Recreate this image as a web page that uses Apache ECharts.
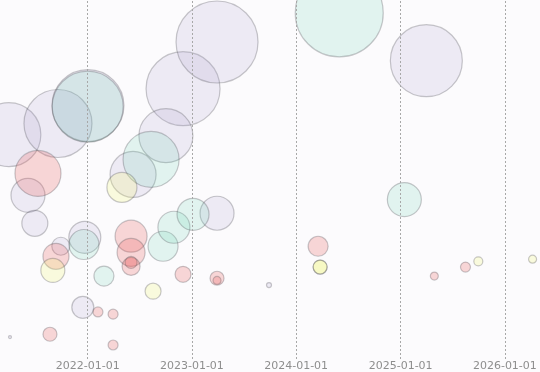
<!DOCTYPE html>
<html>
<head>
<meta charset="utf-8">
<script src="https://cdn.jsdelivr.net/npm/echarts@6/dist/echarts.min.js"></script>
<style>html,body{margin:0;padding:0;background:#fcfbfd;}#c{width:540px;height:372px;}</style>
</head>
<body>
<div id="c"></div>
<script>
// Axis tick labels (year boundaries with dashed guide lines)
var tickLabels = ['2022-01-01', '2023-01-01', '2024-01-01', '2025-01-01', '2026-01-01'];

// Series: lavender
var lavDates = ['2021-03-31','2021-09-19','2022-01-02','2022-12-01','2022-10-02','2022-06-09','2021-06-06','2021-06-30','2023-03-30','2025-04-01','2021-12-22','2021-09-29','2023-03-30','2021-12-15','2021-04-04','2023-09-28'];
var lavValues = [62.5,65.6,70.6,75.3,62.2,51.4,45.6,37.8,88.3,83.1,33.9,31.4,40.6,14.4,6.1,20.6];
var lavSizes = [64,68,72,74,54,46,34,26,82,72,32,18,34,22,3,5];

// Series: teal
var tealDates = ['2022-01-01','2022-08-11','2024-05-31','2021-12-19','2022-02-27','2022-09-22','2022-10-30','2023-01-05','2025-01-14'];
var tealValues = [70.3,55.6,96.4,31.9,23.1,31.4,36.7,40.3,44.4];
var tealSizes = [71,56,88,30,20,30,32,32,34];

// Series: pink
var pinkDates = ['2021-07-11','2021-09-12','2022-06-02','2022-06-02','2022-06-02','2022-06-02','2022-12-01','2023-03-30','2023-03-30','2022-02-06','2022-03-31','2021-08-22','2022-03-31','2024-03-18','2025-04-29','2025-08-16'];
var pinkValues = [51.7,28.6,34.2,29.7,25.8,26.9,23.6,22.5,21.9,13.1,12.5,6.9,3.9,31.4,23.1,25.6];
var pinkSizes = [46,26,32,28,18,12,16,14,8,10,10,14,10,20,8,10];

// Series: yellow
var yelDates = ['2022-05-01','2021-09-01','2022-08-18','2024-03-25','2024-03-25','2025-09-30','2026-04-08'];
var yelValues = [47.8,24.7,18.9,25.6,25.6,27.2,27.8];
var yelSizes = [30,24,16,14,14,9,8];

function pack(d, v, s) {
  return d.map(function (x, i) { return [x, v[i], s[i]]; });
}
function mk(name, data, color) {
  return {
    name: name,
    type: 'scatter',
    silent: true,
    data: data,
    symbolSize: function (val) { return val[2]; },
    itemStyle: { color: color, borderColor: 'rgba(80,80,85,0.38)', borderWidth: 1.2 },
    emphasis: { disabled: true }
  };
}

var series = [
  mk('lavender', pack(lavDates, lavValues, lavSizes), 'rgba(160,150,200,0.2)'),
  mk('teal', pack(tealDates, tealValues, tealSizes), 'rgba(90,205,165,0.2)'),
  mk('pink', pack(pinkDates, pinkValues, pinkSizes), 'rgba(235,95,95,0.3)'),
  mk('yellow', pack(yelDates, yelValues, yelSizes), 'rgba(240,245,110,0.28)')
];
series[0].markLine = {
  silent: true,
  symbol: ['none', 'none'],
  label: { show: false },
  lineStyle: { color: '#a8a8a8', type: [2, 2], width: 1 },
  data: tickLabels.map(function (t) { return { xAxis: t }; })
};

var chart = echarts.init(document.getElementById('c'));
chart.setOption({
  backgroundColor: '#fcfbfd',
  animation: false,
  tooltip: { show: false },
  grid: { left: 0, right: 0, top: 0, bottom: 12, containLabel: false },
  xAxis: {
    type: 'time',
    min: '2021-02-28',
    max: '2026-05-04',
    minInterval: 365 * 24 * 3600 * 1000,
    axisLine: { show: false },
    axisTick: { show: false },
    splitLine: { show: false },
    axisLabel: {
      color: '#8e8e8e', fontSize: 11, fontFamily: 'DejaVu Sans', margin: 2,
      formatter: function (v) {
        var d = new Date(v);
        var s = d.getFullYear() + '-' + String(d.getMonth() + 1).padStart(2, '0') + '-' + String(d.getDate()).padStart(2, '0');
        return tickLabels.indexOf(s) >= 0 ? s : '';
      }
    }
  },
  yAxis: { type: 'value', min: 0, max: 100, show: false, splitLine: { show: false } },
  series: series
});
</script>
</body>
</html>
